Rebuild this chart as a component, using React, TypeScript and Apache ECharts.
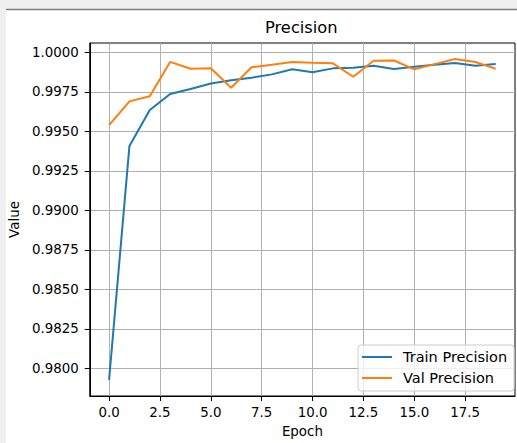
import React, { useEffect, useRef } from "react";
import * as echarts from "echarts";

const epochs = [0, 1, 2, 3, 4, 5, 6, 7, 8, 9, 10, 11, 12, 13, 14, 15, 16, 17, 18, 19];
const trainPrecision = [
  0.97927, 0.99408, 0.99636, 0.99737, 0.99769, 0.99803, 0.99824, 0.9984, 0.99861, 0.99893,
  0.99874, 0.99899, 0.99903, 0.99915, 0.99895, 0.99909, 0.99922, 0.99933, 0.99915, 0.99926,
];
const valPrecision = [
  0.9954, 0.9969, 0.99723, 0.9994, 0.99897, 0.999, 0.99776, 0.99906, 0.99922, 0.99939,
  0.99934, 0.99931, 0.99846, 0.99947, 0.99949, 0.99893, 0.99926, 0.99958, 0.99939, 0.99897,
];
const xTicks = [0, 2.5, 5, 7.5, 10, 12.5, 15, 17.5];
const yTicks = [0.98, 0.9825, 0.985, 0.9875, 0.99, 0.9925, 0.995, 0.9975, 1.0];
const seriesNames = ["Train Precision", "Val Precision"];

const FONT = "DejaVu Sans";
const FS = 13.4;

export default function App() {
  const ref = useRef<HTMLDivElement>(null);
  useEffect(() => {
    if (!ref.current) return;
    const chart = echarts.init(ref.current, undefined, { renderer: "svg" });
    const all = trainPrecision.concat(valPrecision);
    const dMin = Math.min(...all);
    const dMax = Math.max(...all);
    const yPad = (dMax - dMin) * 0.05;
    const xPad = (epochs[epochs.length - 1] - epochs[0]) * 0.05;

    const axisCommon = {
      axisLine: { show: true, onZero: false, lineStyle: { color: "#000", width: 1 } },
      axisTick: { show: true, inside: false, length: 5, lineStyle: { color: "#000", width: 1 } },
      splitLine: { show: true, lineStyle: { color: "#b0b0b0", width: 1 } },
      nameTextStyle: { fontFamily: FONT, fontSize: FS, color: "#000" },
    };

    chart.setOption({
      animation: false,
      backgroundColor: "transparent",
      textStyle: { fontFamily: FONT },
      graphic: [
        { type: "rect", z: -100, silent: true, shape: { x: 0, y: 0, width: 517, height: 443 }, style: { fill: "#f0f0f0" } },
        { type: "rect", z: -99, silent: true, shape: { x: 6, y: 10, width: 511, height: 433 }, style: { fill: "#ffffff" } },
        { type: "line", z: -98, silent: true, shape: { x1: 6, y1: 9.5, x2: 517, y2: 9.5 }, style: { stroke: "#7a7a7a", lineWidth: 1.5 } },
      ],
      title: {
        text: "Precision",
        left: 265,
        top: 19,
        padding: 0,
        textStyle: { fontFamily: FONT, fontSize: 16.3, fontWeight: "normal", color: "#000" },
      },
      grid: {
        left: 89,
        right: 2,
        top: 43,
        bottom: 46,
        show: true,
        borderColor: "#000",
        borderWidth: 1,
        backgroundColor: "transparent",
      },
      legend: {
        orient: "vertical",
        left: 358,
        top: 345,
        data: seriesNames,
        icon: "rect",
        itemWidth: 30,
        itemHeight: 2,
        itemGap: 5,
        padding: [4, 7, 5, 4],
        backgroundColor: "rgba(255,255,255,0.8)",
        borderColor: "#cccccc",
        borderWidth: 1,
        borderRadius: 3,
        textStyle: { fontFamily: FONT, fontSize: 14.5, color: "#000", lineHeight: 16, padding: [0, 0, 0, 6] },
      },
      xAxis: {
        type: "value",
        min: epochs[0] - xPad,
        max: epochs[epochs.length - 1] + xPad,
        name: "Epoch",
        nameLocation: "middle",
        nameGap: 29,
        ...axisCommon,
        axisTick: { ...axisCommon.axisTick, customValues: xTicks },
        axisLabel: {
          customValues: xTicks,
          margin: 10,
          fontFamily: FONT,
          fontSize: FS,
          color: "#000",
          formatter: (v: number) => v.toFixed(1),
        },
      },
      yAxis: {
        type: "value",
        min: dMin - yPad,
        max: dMax + yPad,
        name: "Value",
        nameLocation: "middle",
        nameGap: 62,
        ...axisCommon,
        axisTick: { ...axisCommon.axisTick, customValues: yTicks },
        axisLabel: {
          customValues: yTicks,
          margin: 11,
          fontFamily: FONT,
          fontSize: FS,
          color: "#000",
          formatter: (v: number) => v.toFixed(4),
        },
      },
      series: [
        {
          name: seriesNames[0],
          type: "line",
          data: epochs.map((e, i) => [e, trainPrecision[i]]),
          showSymbol: false,
          symbol: "none",
          lineStyle: { color: "#1f77b4", width: 2 },
          itemStyle: { color: "#1f77b4" },
        },
        {
          name: seriesNames[1],
          type: "line",
          data: epochs.map((e, i) => [e, valPrecision[i]]),
          showSymbol: false,
          symbol: "none",
          lineStyle: { color: "#ff7f0e", width: 2 },
          itemStyle: { color: "#ff7f0e" },
        },
      ],
    });
    return () => chart.dispose();
  }, []);
  return (
    <div
      ref={ref}
      style={{ position: "absolute", left: 0, top: 0, width: 517, height: 443 }}
    />
  );
}
